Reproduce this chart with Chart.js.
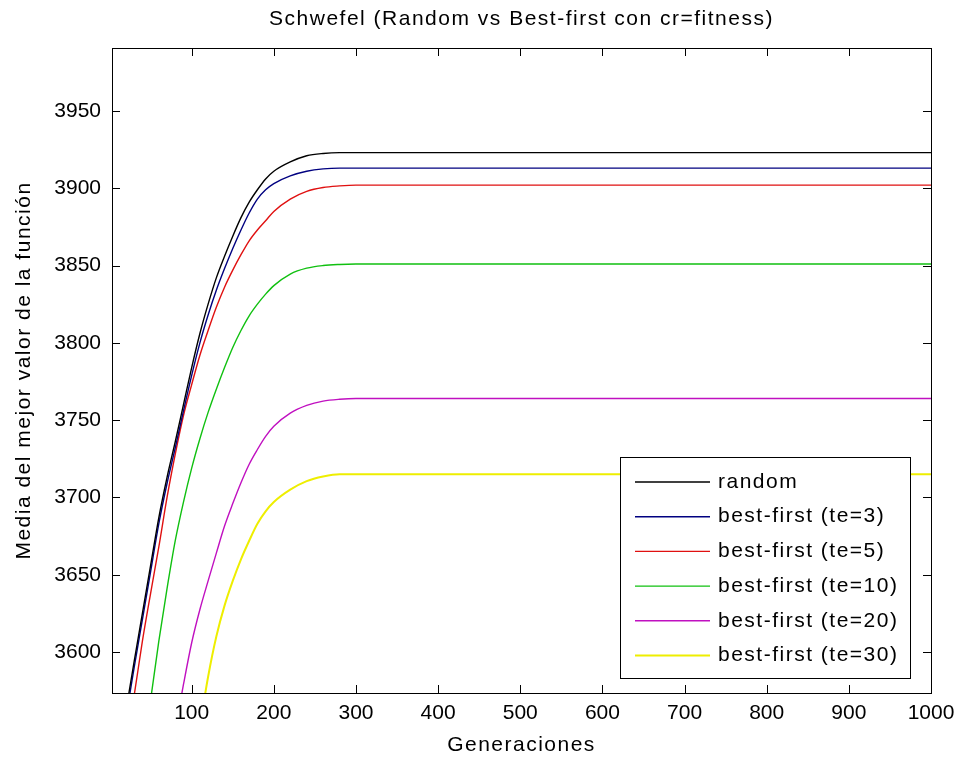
<!DOCTYPE html>
<html>
<head>
<meta charset="utf-8">
<script src="https://cdn.jsdelivr.net/npm/chart.js@4.4.0/dist/chart.umd.min.js"></script>
<style>
  html, body { margin: 0; padding: 0; background: #fff; }
</style>
</head>
<body>
<canvas id="chart" width="958" height="763"></canvas>
<script>
// Datos
const gens = [3, 20, 30, 40, 50, 60, 70, 80, 90, 100, 110, 120, 130, 140, 150, 160, 170, 180, 190, 200,
  220, 240, 260, 280, 300, 400, 500, 600, 700, 800, 900, 1000];

const randomVals = [3510, 3562, 3594, 3625, 3656, 3687, 3713, 3736, 3760, 3784, 3806, 3825, 3842, 3856, 3869, 3881, 3891, 3899, 3906, 3911,
  3917, 3921, 3922.5, 3923, 3923, 3923, 3923, 3923, 3923, 3923, 3923, 3923];
const best3 = [3506, 3558, 3590, 3621, 3652, 3683, 3709, 3732, 3756, 3779, 3800, 3818, 3834, 3848, 3861, 3873, 3884, 3893, 3899, 3903,
  3908, 3911, 3912.5, 3913, 3913, 3913, 3913, 3913, 3913, 3913, 3913, 3913];
const best5 = [3490, 3540, 3572, 3607, 3638, 3668, 3700, 3728, 3753, 3773, 3792, 3808, 3823, 3836, 3847, 3857, 3866, 3873, 3879, 3885,
  3893, 3898, 3900.5, 3901.5, 3902, 3902, 3902, 3902, 3902, 3902, 3902, 3902];
const best10 = [3380, 3449, 3489, 3529, 3569, 3607, 3641, 3672, 3697, 3719, 3738, 3755, 3770, 3784, 3797, 3808, 3817.5, 3825, 3831.5, 3837,
  3844.5, 3848.3, 3850, 3850.7, 3851, 3851, 3851, 3851, 3851, 3851, 3851, 3851];
const best20 = [3320, 3370, 3400, 3430, 3460, 3490, 3520, 3550, 3579, 3606, 3627.5, 3646, 3664, 3681.5, 3696, 3709.5, 3721.5, 3731, 3739.5, 3746,
  3754.5, 3759.5, 3762.3, 3763.5, 3764, 3764, 3764, 3764, 3764, 3764, 3764, 3764];
const best30 = [3210, 3264, 3296, 3328, 3360, 3392, 3424, 3456, 3488, 3520, 3552, 3584, 3610, 3630, 3646, 3660, 3672, 3683, 3691, 3697,
  3705, 3710.5, 3713.5, 3715, 3715, 3715, 3715, 3715, 3715, 3715, 3715, 3715];

const seriesNames = ["random", "best-first (te=3)", "best-first (te=5)", "best-first (te=10)", "best-first (te=20)", "best-first (te=30)"];
const seriesColors = ["#000000", "#000080", "#e01010", "#10c010", "#c010c0", "#eeee00"];

const xTicks = [100, 200, 300, 400, 500, 600, 700, 800, 900, 1000];
const yTicks = [3600, 3650, 3700, 3750, 3800, 3850, 3900, 3950];

const chartTitle = "Schwefel (Random vs Best-first con cr=fitness)";
const FONT = "'Liberation Sans', Arial, sans-serif";
const SPACING = "1.5px";

// Caja, marcas hacia dentro, título y leyenda estilo MATLAB
const matlabBox = {
  id: "matlabBox",
  beforeDraw(chart) {
    chart.ctx.letterSpacing = SPACING; // títulos de los ejes
  },
  beforeDatasetsDraw(chart) {
    chart.ctx.letterSpacing = "0px"; // etiquetas de las marcas (z = 1)
  },
  afterDraw(chart) {
    const { ctx, chartArea: a, scales } = chart;
    const len = 8;
    ctx.save();
    ctx.strokeStyle = "#000";
    ctx.lineWidth = 1;
    ctx.beginPath();
    scales.x.ticks.forEach(t => {
      const px = Math.round(scales.x.getPixelForValue(t.value)) + 0.5;
      ctx.moveTo(px, a.bottom); ctx.lineTo(px, a.bottom - len);
      ctx.moveTo(px, a.top); ctx.lineTo(px, a.top + len);
    });
    scales.y.ticks.forEach(t => {
      const py = Math.round(scales.y.getPixelForValue(t.value)) + 0.5;
      ctx.moveTo(a.left, py); ctx.lineTo(a.left + len, py);
      ctx.moveTo(a.right, py); ctx.lineTo(a.right - len, py);
    });
    ctx.stroke();
    ctx.strokeRect(Math.round(a.left) + 0.5, Math.round(a.top) + 0.5,
      Math.round(a.right - a.left), Math.round(a.bottom - a.top));

    ctx.letterSpacing = SPACING;
    ctx.font = "21px " + FONT;
    ctx.fillStyle = "#000";
    ctx.textAlign = "center";
    ctx.textBaseline = "middle";
    ctx.fillText(chartTitle, (a.left + a.right) / 2, 19);

    // leyenda
    const lx = 620, ly = 457, lw = 290, lh = 221, row = 34.7;
    ctx.fillStyle = "#fff";
    ctx.fillRect(lx, ly, lw, lh);
    ctx.strokeRect(lx + 0.5, ly + 0.5, lw, lh);
    ctx.textAlign = "left";
    chart.data.datasets.forEach((ds, i) => {
      const y = ly + 25 + i * row;
      ctx.strokeStyle = ds.borderColor;
      ctx.lineWidth = ds.borderWidth;
      ctx.beginPath();
      ctx.moveTo(635, y); ctx.lineTo(710, y);
      ctx.stroke();
      ctx.fillStyle = "#000";
      ctx.fillText(ds.label, 718, y);
    });
    ctx.restore();
  },
};

const ctx = document.getElementById("chart").getContext("2d");

new Chart(ctx, {
  type: "line",
  data: {
    labels: gens,
    datasets: [randomVals, best3, best5, best10, best20, best30].map((vals, i) => ({
      label: seriesNames[i],
      data: vals,
      borderColor: seriesColors[i],
      borderWidth: i === 5 ? 2 : 1.4,
      pointRadius: 0,
      cubicInterpolationMode: "monotone",
      fill: false,
    })),
  },
  options: {
    responsive: false,
    animation: false,
    layout: { padding: { left: 0, right: 27, top: 48, bottom: 0 } },
    plugins: {
      legend: { display: false },
      tooltip: { enabled: false },
      title: { display: false },
    },
    scales: {
      x: {
        type: "linear",
        min: 3,
        max: 1000,
        afterBuildTicks: s => { s.ticks = xTicks.map(v => ({ value: v })); },
        afterFit: s => { s.height = 70; s.paddingLeft = 0; s.paddingRight = 0; },
        grid: { display: false, drawTicks: false },
        border: { display: false },
        ticks: {
          z: 1,
          color: "#000",
          padding: 8,
          maxRotation: 0,
          font: { family: FONT, size: 21 },
          callback: v => String(v),
        },
        title: {
          display: true,
          text: "Generaciones",
          color: "#000",
          font: { family: FONT, size: 21 },
          padding: { top: 0, bottom: 5 },
        },
      },
      y: {
        min: 3573.5,
        max: 3990.7,
        afterBuildTicks: s => { s.ticks = yTicks.map(v => ({ value: v })); },
        afterFit: s => { s.width = 112; s.paddingTop = 0; s.paddingBottom = 0; },
        grid: { display: false, drawTicks: false },
        border: { display: false },
        ticks: {
          z: 1,
          color: "#000",
          padding: 11,
          font: { family: FONT, size: 21 },
          callback: v => String(v),
        },
        title: {
          display: true,
          text: "Media del mejor valor de la función",
          color: "#000",
          font: { family: FONT, size: 21 },
          padding: { top: 12, bottom: 0 },
        },
      },
    },
  },
  plugins: [matlabBox],
});
</script>
</body>
</html>
